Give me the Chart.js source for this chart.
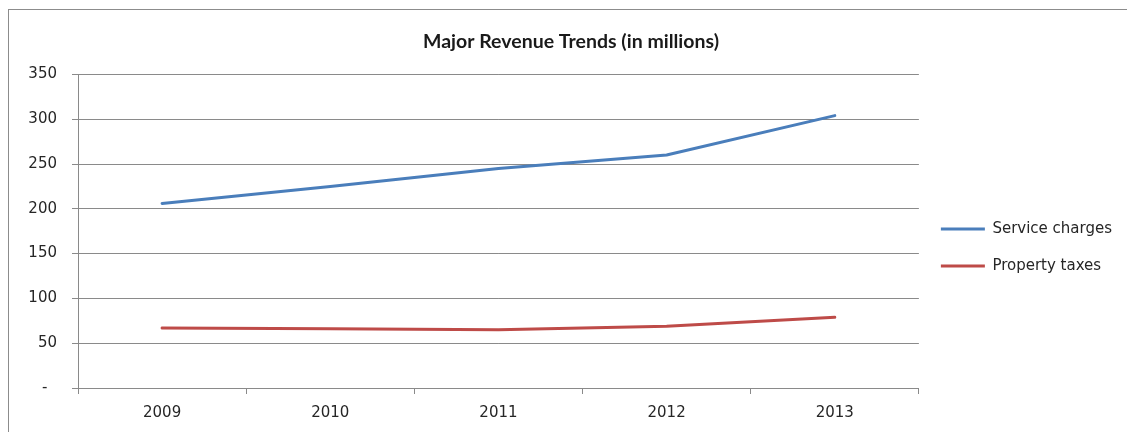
<!DOCTYPE html>
<html>
<head>
<meta charset="utf-8">
<script src="https://cdn.jsdelivr.net/npm/chart.js@4.4.1/dist/chart.umd.min.js"></script>
<style>
  html, body { margin: 0; padding: 0; background: #ffffff; }
  #frame {
    position: absolute; left: 8px; top: 9px; width: 1200px; height: 500px;
    border-left: 1px solid #8c8c8c; border-top: 1px solid #8c8c8c;
  }
  #wrap { position: absolute; left: 0; top: 0; width: 1127px; height: 432px; }
</style>
</head>
<body>
<div id="frame"></div>
<div id="wrap"><canvas id="chart" width="1127" height="432"></canvas></div>
<script>
// Fiscal years on the horizontal axis
const years = ['2009', '2010', '2011', '2012', '2013'];

// Revenue by source, in millions
const serviceCharges = [206, 225, 245, 260, 304];
const propertyTaxes = [67, 66, 65, 69, 79];

// Value axis range
const yMin = 0;
const yMax = 350;
const yStep = 50;

const axisGray = '#8a8a8a';
const textColor = '#262626';
const tickFont = { family: 'DejaVu Sans', size: 15 };

new Chart(document.getElementById('chart'), {
  type: 'line',
  data: {
    labels: years,
    datasets: [
      {
        label: 'Service charges',
        data: serviceCharges,
        borderColor: '#4a7ebb',
        backgroundColor: '#4a7ebb',
        borderWidth: 3,
        borderCapStyle: 'round',
        borderJoinStyle: 'round',
        pointRadius: 0,
        tension: 0
      },
      {
        label: 'Property taxes',
        data: propertyTaxes,
        borderColor: '#be4b48',
        backgroundColor: '#be4b48',
        borderWidth: 3,
        borderCapStyle: 'round',
        borderJoinStyle: 'round',
        pointRadius: 0,
        tension: 0
      }
    ]
  },
  options: {
    responsive: false,
    animation: false,
    events: [],
    layout: { padding: { top: 30, left: 20, right: 5, bottom: 0 } },
    plugins: {
      title: {
        display: true,
        text: 'Major Revenue Trends (in millions)',
        color: '#1a1a1a',
        font: { family: 'Lato', size: 19.5, weight: 'bold' },
        padding: { top: 0, bottom: 21 }
      },
      legend: {
        position: 'right',
        title: {
          display: true,
          text: ' ',
          font: { size: 10 },
          padding: { top: 21, bottom: 0 }
        },
        labels: {
          usePointStyle: true,
          pointStyle: 'line',
          pointStyleWidth: 44,
          boxHeight: 15,
          padding: 22,
          color: textColor,
          font: tickFont
        }
      },
      tooltip: { enabled: false }
    },
    scales: {
      x: {
        type: 'category',
        offset: true,
        grid: {
          offset: true,
          drawOnChartArea: false,
          drawTicks: true,
          tickLength: 6,
          color: axisGray
        },
        border: { display: true, color: axisGray },
        ticks: { color: textColor, font: tickFont, padding: 10, maxRotation: 0 }
      },
      y: {
        min: yMin,
        max: yMax,
        afterFit: (scale) => { scale.width = 58; },
        grid: {
          color: axisGray,
          drawTicks: true,
          tickLength: 6
        },
        border: { display: true, color: axisGray },
        ticks: {
          stepSize: yStep,
          color: textColor,
          font: tickFont,
          padding: 15,
          callback: (v) => (v === 0 ? '-  ' : String(v))
        }
      }
    }
  }
});
</script>
</body>
</html>
